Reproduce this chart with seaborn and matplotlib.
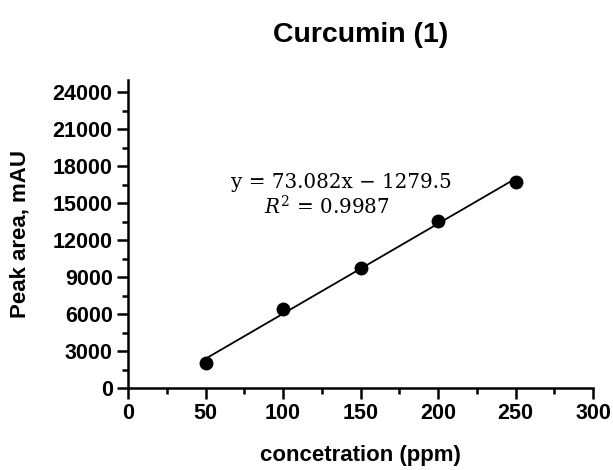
import matplotlib
matplotlib.use("Agg")
import matplotlib.pyplot as plt
from matplotlib.ticker import MultipleLocator
import numpy as np
import pandas as pd
import seaborn as sns

# Calibration data for curcumin
concentration = [50, 100, 150, 200, 250]
peak_area = [2000, 6450, 9700, 13550, 16700]

# Linear regression reported for the calibration
slope = 73.082
intercept = -1279.5
r_squared = 0.9987

x_ticks = [0, 50, 100, 150, 200, 250, 300]
y_ticks = [0, 3000, 6000, 9000, 12000, 15000, 18000, 21000, 24000]

sns.set_theme(style="ticks")
plt.rcParams["font.family"] = ["Liberation Sans", "DejaVu Sans"]
plt.rcParams["mathtext.fontset"] = "dejavuserif"
plt.rcParams["text.color"] = "black"
plt.rcParams["axes.labelcolor"] = "black"
plt.rcParams["xtick.color"] = "black"
plt.rcParams["ytick.color"] = "black"

df = pd.DataFrame({"conc": concentration, "area": peak_area})
fit_x = np.array([min(concentration), max(concentration)])
fit_df = pd.DataFrame({"conc": fit_x, "area": slope * fit_x + intercept})

W, H = 613, 470
fig = plt.figure(figsize=(W / 100, H / 100), dpi=100)
ax_l, ax_r, ax_b, ax_t = 128, 593, 388, 80
ax = fig.add_axes([ax_l / W, 1 - ax_b / H, (ax_r - ax_l) / W, (ax_b - ax_t) / H])

sns.lineplot(data=fit_df, x="conc", y="area", ax=ax, color="black", linewidth=1.3)
sns.scatterplot(data=df, x="conc", y="area", ax=ax, color="black", s=100,
                edgecolor="black", linewidth=0, zorder=3)

ax.set_xlim(0, 300)
ax.set_ylim(0, 25000)
ax.set_xticks(x_ticks)
ax.set_yticks(y_ticks)
ax.xaxis.set_minor_locator(MultipleLocator(25))
ax.yaxis.set_minor_locator(MultipleLocator(1500))
ax.tick_params(which="major", direction="out", length=8, width=1.8, labelsize=15.5, pad=3)
ax.tick_params(which="minor", direction="out", length=4.5, width=1.8)
for lbl in ax.get_xticklabels() + ax.get_yticklabels():
    lbl.set_fontweight("bold")

for side in ("top", "right"):
    ax.spines[side].set_visible(False)
for side in ("left", "bottom"):
    ax.spines[side].set_linewidth(1.8)
    ax.spines[side].set_color("black")

ax.set_xlabel("concetration (ppm)", fontsize=16, fontweight="bold", va="center")
ax.set_ylabel("Peak area, mAU", fontsize=16, fontweight="bold", va="center")
ax.xaxis.set_label_coords(0.5, (ax_b - 455) / (ax_b - ax_t))
ax.yaxis.set_label_coords((20 - ax_l) / (ax_r - ax_l), 0.5)
fig.text(0.5 * (ax_l + ax_r) / W, 1 - 35 / H, "Curcumin (1)", ha="center",
         va="center", fontsize=20.5, fontweight="bold")

# Regression equation and coefficient of determination
ax.text(137.4, 16720, f"y = {slope}x \u2212 {abs(intercept)}", ha="center",
        va="center", fontsize=14.3, family="DejaVu Serif")
ax.text(128.4, 14690, f"$R^2$ = {r_squared}", ha="center", va="center",
        fontsize=14.3, family="DejaVu Serif")

fig.savefig("out.png", dpi=100)
